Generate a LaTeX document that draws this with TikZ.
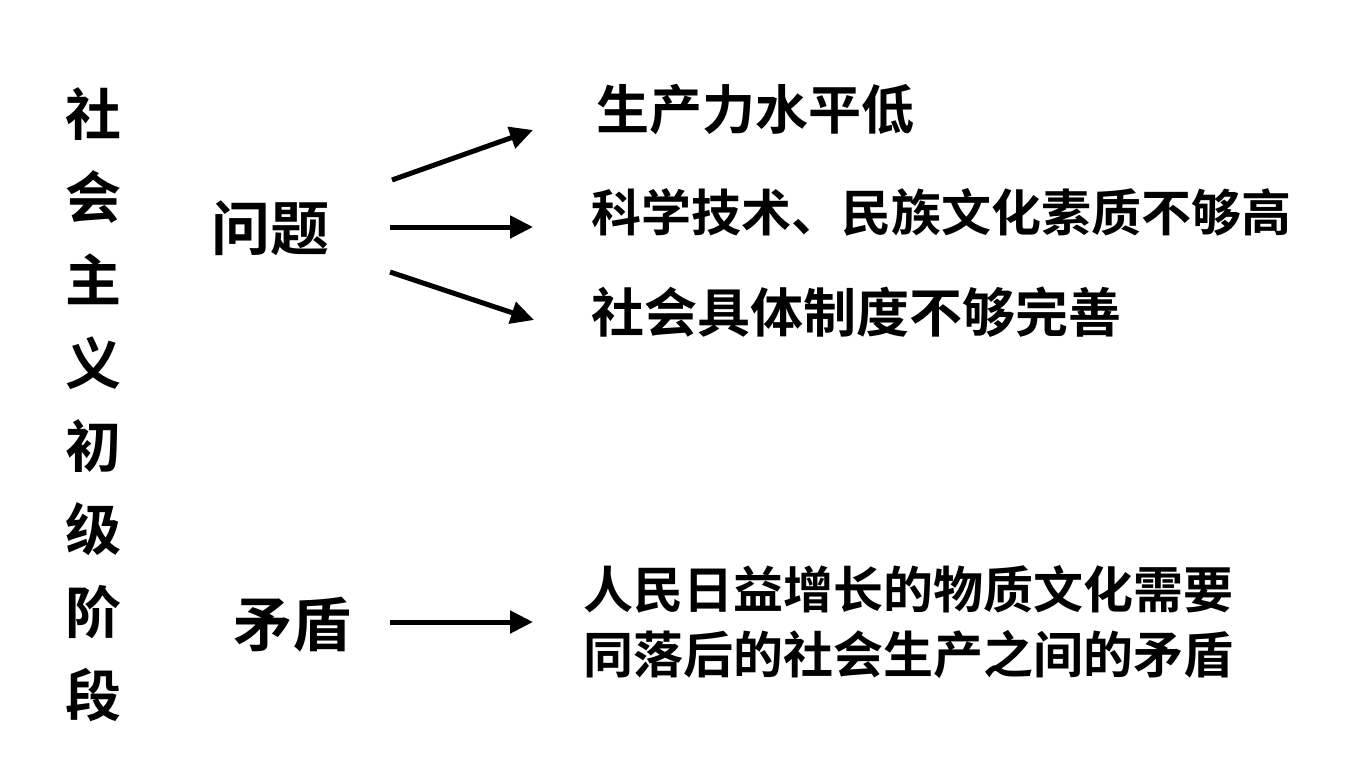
\documentclass[tikz,border=0pt]{standalone}
\usepackage{fontspec}
\newfontfamily\cjk{Noto Sans CJK SC}[BoldFont={Noto Sans CJK SC Bold}]
\usetikzlibrary{arrows.meta}
\begin{document}
\begin{tikzpicture}[x=1pt,y=-1pt,
  lbl/.style={inner sep=0pt,font=\cjk\bfseries\fontsize{#1}{#1}\selectfont},
  arr/.style={line width=5pt,-{Triangle[length=23pt,width=22pt]}}]
\useasboundingbox[fill=white] (0,0) rectangle (1350,764);
\node[inner sep=0pt,align=center,font=\cjk\bfseries\fontsize{56}{83}\selectfont] (col) at (93,405) {社\\会\\主\\义\\初\\级\\阶\\段};
\node[lbl=59,anchor=west] (wt) at (211,228) {问题};
\node[lbl=59,anchor=west] (md) at (233,625) {矛盾};
\node[lbl=53,anchor=west] (a1) at (596,110) {生产力水平低};
\node[lbl=50,anchor=west] (a2) at (591,212) {科学技术、民族文化素质不够高};
\node[lbl=53,anchor=west] (a3) at (591,312) {社会具体制度不够完善};
\node[lbl=50,anchor=west,align=left,font=\cjk\bfseries\fontsize{50}{65}\selectfont] (b1) at (583,622) {人民日益增长的物质文化需要\\同落后的社会生产之间的矛盾};
\coordinate (s1) at (392,180); \coordinate (e1) at (533,130);
\coordinate (s2) at (390,227); \coordinate (e2) at (533,227);
\coordinate (s3) at (390,272); \coordinate (e3) at (534,320);
\coordinate (s4) at (390,622); \coordinate (e4) at (533,622);
\draw[arr] (s1) -- (e1);
\draw[arr] (s2) -- (e2);
\draw[arr] (s3) -- (e3);
\draw[arr] (s4) -- (e4);
\end{tikzpicture}
\end{document}
